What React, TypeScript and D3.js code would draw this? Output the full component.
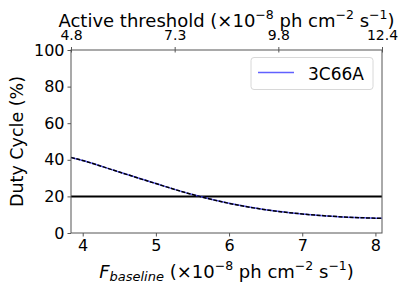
import React, { useEffect, useRef } from 'react';
import * as d3 from 'd3';

// F_baseline (x1e-8) vs duty cycle (%)
const fluxValues = [3.84, 4.0, 4.5, 5.0, 5.5, 6.0, 6.5, 7.0, 7.5, 8.0, 8.09];
const dutyValues = [41.3, 39.6, 33.3, 27.0, 21.0, 16.2, 12.7, 10.4, 8.9, 8.1, 8.0];
const bottomTicks = [4, 5, 6, 7, 8];
const leftTicks = [0, 20, 40, 60, 80, 100];
const topTickLabels = ['4.8', '7.3', '9.8', '12.4'];
const threshold = 20;
const seriesName = '3C66A';

const W = 407;
const H = 291;
const M = { left: 71, right: 25, top: 50, bottom: 58 };
const FONT = 'DejaVu Sans, sans-serif';

// text with matplotlib-style superscripts: [text, isSuperscript]
function unitLabel(
  t: d3.Selection<SVGTextElement, unknown, null, undefined>,
  parts: Array<[string, boolean]>
) {
  parts.forEach(([s, sup], i) => {
    if (sup) t.append('tspan').attr('font-size', 12.5).attr('dy', -8).text(s);
    else t.append('tspan').attr('dy', i > 0 && parts[i - 1][1] ? 8 : 0).text(s);
  });
}

export default function App() {
  const ref = useRef<SVGSVGElement>(null);

  useEffect(() => {
    if (!ref.current) return;
    const svg = d3.select(ref.current);
    svg.selectAll('*').remove();

    const x0 = M.left;
    const x1 = W - M.right;
    const y0 = H - M.bottom;
    const y1 = M.top;

    const x = d3.scaleLinear().domain([3.84, 8.09]).range([x0, x1]);
    const y = d3.scaleLinear().domain([0, 100]).range([y0, y1]);
    const xTop = d3.scalePoint<string>().domain(topTickLabels).range([x0, x1]);

    const pts = fluxValues.map((f, i) => [f, dutyValues[i]] as [number, number]);
    const line = d3
      .line<[number, number]>()
      .x((d) => x(d[0]))
      .y((d) => y(d[1]))
      .curve(d3.curveMonotoneX);

    // threshold line
    svg
      .append('line')
      .attr('x1', x0)
      .attr('x2', x1)
      .attr('y1', y(threshold))
      .attr('y2', y(threshold))
      .attr('stroke', '#000')
      .attr('stroke-width', 2);

    // blue series, black dashed overlay
    svg
      .append('path')
      .attr('d', line(pts))
      .attr('fill', 'none')
      .attr('stroke', '#3a3aff')
      .attr('stroke-opacity', 0.8)
      .attr('stroke-width', 1.5);
    svg
      .append('path')
      .attr('d', line(pts))
      .attr('fill', 'none')
      .attr('stroke', '#000')
      .attr('stroke-width', 1.5)
      .attr('stroke-dasharray', '4,1.5');

    // frame
    svg
      .append('rect')
      .attr('x', x0)
      .attr('y', y1)
      .attr('width', x1 - x0)
      .attr('height', y0 - y1)
      .attr('fill', 'none')
      .attr('stroke', '#555')
      .attr('stroke-width', 1);

    const axisStyle = (g: d3.Selection<SVGGElement, unknown, null, undefined>, size: number) => {
      g.select('.domain').remove();
      g.selectAll('.tick line').attr('stroke', '#555').attr('stroke-width', 1);
      g.selectAll('.tick text').attr('fill', '#000').attr('font-size', size).attr('font-family', FONT);
    };

    const gb = svg
      .append('g')
      .attr('transform', `translate(0,${y0})`)
      .call(d3.axisBottom(x).tickValues(bottomTicks).tickFormat(d3.format('d')).tickSize(3.5).tickPadding(3));
    axisStyle(gb, 16);

    const gl = svg
      .append('g')
      .attr('transform', `translate(${x0},0)`)
      .call(d3.axisLeft(y).tickValues(leftTicks).tickSize(3.5).tickPadding(3));
    axisStyle(gl, 16);

    const gt = svg
      .append('g')
      .attr('transform', `translate(0,${y1})`)
      .call(d3.axisTop(xTop).tickSize(3).tickPadding(7));
    axisStyle(gt, 14);
    gt.selectAll('.tick line').attr('y1', 2.5);

    // axis titles
    const bt = svg
      .append('text')
      .attr('x', (x0 + x1) / 2)
      .attr('y', 278)
      .attr('text-anchor', 'middle')
      .attr('font-family', FONT)
      .attr('font-size', 18);
    bt.append('tspan').attr('font-style', 'italic').text('F');
    bt.append('tspan').attr('font-style', 'italic').attr('font-size', 13).attr('dy', 3).text('baseline');
    bt.append('tspan').attr('dy', -3).text(' (×10');
    bt.append('tspan').attr('font-size', 12.5).attr('dy', -8).text('−8');
    bt.append('tspan').attr('dy', 8).text(' ph cm');
    bt.append('tspan').attr('font-size', 12.5).attr('dy', -8).text('−2');
    bt.append('tspan').attr('dy', 8).text(' s');
    bt.append('tspan').attr('font-size', 12.5).attr('dy', -8).text('−1');
    bt.append('tspan').attr('dy', 8).text(')');

    const tt = svg
      .append('text')
      .attr('x', (x0 + x1) / 2)
      .attr('y', 27)
      .attr('text-anchor', 'middle')
      .attr('font-family', FONT)
      .attr('font-size', 18);
    unitLabel(tt, [
      ['Active threshold (×10', false],
      ['−8', true],
      [' ph cm', false],
      ['−2', true],
      [' s', false],
      ['−1', true],
      [')', false],
    ]);

    svg
      .append('text')
      .attr('transform', `translate(23,${(y0 + y1) / 2}) rotate(-90)`)
      .attr('text-anchor', 'middle')
      .attr('font-family', FONT)
      .attr('font-size', 17.5)
      .text('Duty Cycle (%)');

    // legend
    const lg = svg.append('g').attr('transform', 'translate(251,57.5)');
    lg.append('rect')
      .attr('width', 122)
      .attr('height', 32)
      .attr('rx', 3)
      .attr('fill', '#fff')
      .attr('fill-opacity', 0.8)
      .attr('stroke', '#d8d8d8');
    lg.append('line')
      .attr('x1', 7)
      .attr('x2', 43)
      .attr('y1', 15)
      .attr('y2', 15)
      .attr('stroke', '#3a3aff')
      .attr('stroke-opacity', 0.8)
      .attr('stroke-width', 1.5);
    lg.append('text')
      .attr('x', 57)
      .attr('y', 22)
      .attr('font-family', FONT)
      .attr('font-size', 17)
      .text(seriesName);
  }, []);

  return (
    <svg
      ref={ref}
      width={W}
      height={H}
      style={{ position: 'absolute', top: 0, left: 0, background: '#fff' }}
    />
  );
}
